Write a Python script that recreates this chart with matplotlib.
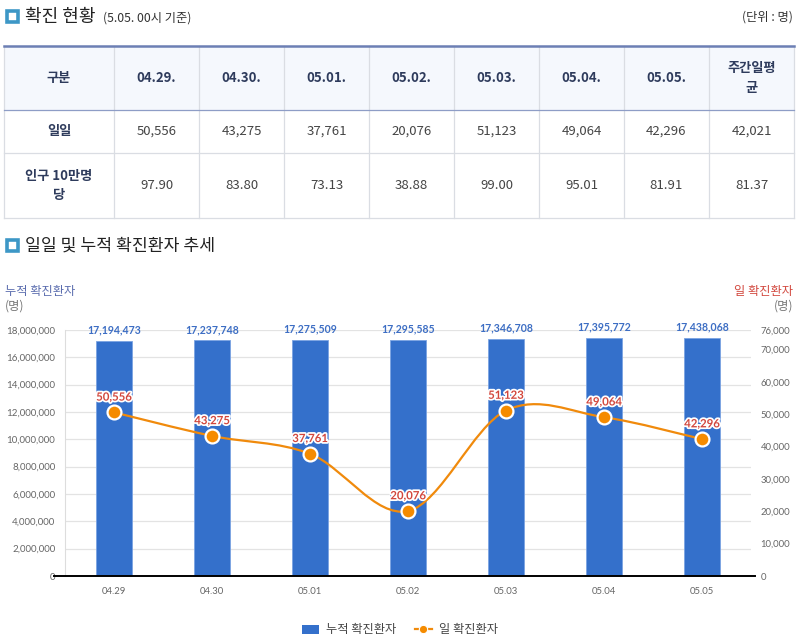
import matplotlib
matplotlib.use("Agg")
import matplotlib.pyplot as plt
from matplotlib.patches import Rectangle, Patch
from matplotlib.lines import Line2D
from matplotlib.path import Path
from matplotlib.patches import PathPatch
import matplotlib.patheffects as pe

# ---------------- data ----------------
table_dates = ['04.29.', '04.30.', '05.01.', '05.02.', '05.03.', '05.04.', '05.05.']
table_avg_label = '주간일평\n균'
row_labels = ['일일', '인구 10만명\n당']
daily = [50556, 43275, 37761, 20076, 51123, 49064, 42296]
daily_avg = 42021
per100k = [97.90, 83.80, 73.13, 38.88, 99.00, 95.01, 81.91]
per100k_avg = 81.37
x_labels = ['04.29', '04.30', '05.01', '05.02', '05.03', '05.04', '05.05']
cumulative = [17194473, 17237748, 17275509, 17295585, 17346708, 17395772, 17438068]
left_ticks = [0, 2000000, 4000000, 6000000, 8000000, 10000000, 12000000, 14000000, 16000000, 18000000]
right_ticks = [0, 10000, 20000, 30000, 40000, 50000, 60000, 70000, 76000]
series_names = ['누적 확진환자', '일 확진환자']

KR = ['Noto Sans CJK KR', 'DejaVu Sans']
LK = ['Lato', 'Noto Sans CJK KR', 'DejaVu Sans']
plt.rcParams['font.family'] = KR

W, H = 798, 641
fig = plt.figure(figsize=(W / 100, H / 100), dpi=100)

# overlay axes in pixel coordinates
ov = fig.add_axes([0, 0, 1, 1])
ov.set_xlim(0, W)
ov.set_ylim(H, 0)
ov.axis('off')

def icon(x, y):
    ov.add_patch(Rectangle((x, y), 11, 11, facecolor='white', edgecolor='#3d97c6', lw=2.6))

# headings
icon(7, 11)
ov.text(25, 17, '확진 현황', fontsize=13, color='#222222', va='center', ha='left', family=KR)
ov.text(103, 18, '(5.05. 00시 기준)', fontsize=8.8, color='#333333', va='center', ha='left', family=KR)
ov.text(793, 17, '(단위 : 명)', fontsize=8.8, color='#333333', va='center', ha='right', family=KR)

# table
col_edges = [4, 114, 199, 284, 369, 454, 539, 624, 709, 794]
row_edges = [46, 110, 153, 218]
ov.add_patch(Rectangle((col_edges[0], row_edges[0]), col_edges[-1] - col_edges[0],
                       row_edges[1] - row_edges[0], facecolor='#f5f8fd', edgecolor='none'))
for x in col_edges:
    ov.plot([x, x], [row_edges[0], row_edges[-1]], color='#dadde3', lw=0.9)
for y in row_edges[2:]:
    ov.plot([col_edges[0], col_edges[-1]], [y, y], color='#dadde3', lw=0.9)
ov.plot([col_edges[0], col_edges[-1]], [row_edges[1], row_edges[1]], color='#8e9dc6', lw=0.9)
ov.plot([col_edges[0], col_edges[-1]], [row_edges[0], row_edges[0]], color='#6c7fb4', lw=1.8)

head_color = '#2e3b5c'
body_color = '#444444'
header = ['구분'] + table_dates + [table_avg_label]
rows = [[row_labels[0]] + [f'{v:,}' for v in daily] + [f'{daily_avg:,}'],
        [row_labels[1]] + [f'{v:.2f}' for v in per100k] + [f'{per100k_avg:.2f}']]
for j, t in enumerate(header):
    cx = (col_edges[j] + col_edges[j + 1]) / 2
    ov.text(cx, (row_edges[0] + row_edges[1]) / 2, t, ha='center', va='center', fontsize=9.5,
            fontweight='bold', color=head_color, linespacing=1.5, family=KR)
for r, row in enumerate(rows):
    cy = (row_edges[r + 1] + row_edges[r + 2]) / 2
    for j, t in enumerate(row):
        cx = (col_edges[j] + col_edges[j + 1]) / 2
        if j == 0:
            ov.text(cx, cy, t, ha='center', va='center', fontsize=9.5, fontweight='bold',
                    color=head_color, linespacing=1.5, family=KR)
        else:
            ov.text(cx, cy, t, ha='center', va='center', fontsize=9.5, color=body_color, family=KR)

icon(7, 240)
ov.text(25, 246, '일일 및 누적 확진환자 추세', fontsize=12.4, color='#222222', va='center', ha='left', family=KR)

# axis titles
ov.text(5, 291, series_names[0], fontsize=8.8, color='#5a6cae', va='center', ha='left', family=KR)
ov.text(5, 306, '(명)', fontsize=8.8, color='#777777', va='center', ha='left', family=KR)
ov.text(793, 291, series_names[1], fontsize=8.8, color='#d2473d', va='center', ha='right', family=KR)
ov.text(793, 306, '(명)', fontsize=8.8, color='#777777', va='center', ha='right', family=KR)

# ---------------- chart ----------------
L, R, T, B = 65, 751, 330, 576
ax = fig.add_axes([L / W, 1 - B / H, (R - L) / W, (B - T) / H])
ax.set_zorder(2)
ax.patch.set_alpha(0)
xs = list(range(len(x_labels)))
bar_color = '#3470cb'
ax.bar(xs, cumulative, width=0.36, color=bar_color, edgecolor='#7aa3e2', lw=0.6, zorder=2)
ax.set_xlim(-0.5, len(xs) - 0.5)
ax.set_ylim(0, 18000000)
ax.set_yticks(left_ticks)
ax.set_yticklabels([f'{v:,}' for v in left_ticks], family=LK, fontsize=7, color='#666666')
ax.set_xticks(xs)
ax.set_xticklabels(x_labels, family=LK, fontsize=6.8, color='#666666')
ax.tick_params(axis='y', length=0, pad=7)
ax.tick_params(axis='x', length=0, pad=8)
ax.grid(axis='y', color='#e3e3e3', lw=0.9, zorder=0)
ax.set_axisbelow(True)
for s in ['top', 'right', 'bottom']:
    ax.spines[s].set_visible(False)
ax.spines['left'].set_color('#dddddd')
ax.axhline(0, xmin=-0.016, xmax=1.006, color='black', lw=1.4, clip_on=False, zorder=5)

for x, v in zip(xs, cumulative):
    ax.annotate(f'{v:,}', (x, v), xytext=(0, 4), textcoords='offset points', ha='center',
                va='bottom', fontsize=7.6, fontweight='bold', color='#3d6ec4', family=LK, zorder=6)

ax2 = ax.twinx()
ax2.set_ylim(0, 76000)
ax2.set_yticks(right_ticks)
ax2.set_yticklabels([f'{v:,}' for v in right_ticks], family=LK, fontsize=6.8, color='#666666')
ax2.tick_params(axis='y', length=0, pad=7)
for s in ax2.spines.values():
    s.set_visible(False)

# Catmull-Rom spline through the daily points
orange = '#f08a0c'
pts = list(zip(xs, daily))
verts = [pts[0]]
codes = [Path.MOVETO]
n = len(pts)
for i in range(n - 1):
    p0 = pts[i - 1] if i > 0 else pts[i]
    p1 = pts[i]
    p2 = pts[i + 1]
    p3 = pts[i + 2] if i + 2 < n else pts[i + 1]
    c1 = (p1[0] + (p2[0] - p0[0]) / 6, p1[1] + (p2[1] - p0[1]) / 6)
    c2 = (p2[0] - (p3[0] - p1[0]) / 6, p2[1] - (p3[1] - p1[1]) / 6)
    verts += [c1, c2, p2]
    codes += [Path.CURVE4] * 3
ax2.add_patch(PathPatch(Path(verts, codes), facecolor='none', edgecolor=orange, lw=1.6, zorder=3))
ax2.plot(xs, daily, linestyle='none', marker='o', markersize=10, markerfacecolor='#f58b00',
         markeredgecolor='white', markeredgewidth=1.6, zorder=4)
for x, v in zip(xs, daily):
    ax2.annotate(f'{v:,}', (x, v), xytext=(0, 7), textcoords='offset points', ha='center',
                 va='bottom', fontsize=8.2, fontweight='bold', color='#d2473d', family=LK, zorder=6,
                 path_effects=[pe.withStroke(linewidth=2.5, foreground='white')])

# legend
handles = [Patch(facecolor=bar_color, edgecolor='none'),
           Line2D([], [], color=orange, lw=1.6, marker='o', markersize=6,
                  markerfacecolor='#f58b00', markeredgecolor='white', markeredgewidth=0.8)]
fig.legend(handles, series_names, loc='center', bbox_to_anchor=(400 / W, 1 - 630 / H), ncol=2,
           frameon=False, prop={'family': KR, 'size': 8.8}, handlelength=1.4, handletextpad=0.6,
           columnspacing=1.5, labelcolor='#444444')

fig.savefig('out.png', dpi=100)
